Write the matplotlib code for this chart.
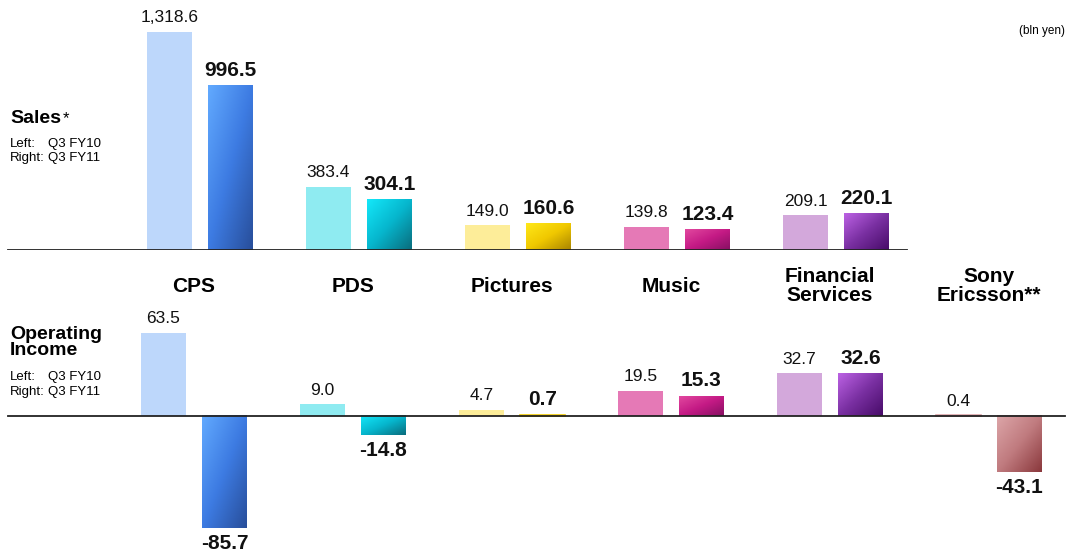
import numpy as np
import matplotlib
matplotlib.use('Agg')
import matplotlib.pyplot as plt
from matplotlib.colors import LinearSegmentedColormap
from matplotlib import transforms

plt.rcParams['font.family'] = ['Liberation Sans', 'DejaVu Sans']

# Data (bln yen)
categories = ['CPS', 'PDS', 'Pictures', 'Music', 'Financial\nServices', 'Sony\nEricsson**']
sales_fy10 = [1318.6, 383.4, 149.0, 139.8, 209.1, np.nan]
sales_fy11 = [996.5, 304.1, 160.6, 123.4, 220.1, np.nan]
oi_fy10 = [63.5, 9.0, 4.7, 19.5, 32.7, 0.4]
oi_fy11 = [-85.7, -14.8, 0.7, 15.3, 32.6, -43.1]

# flat colour for the FY10 bars, gradient stops for the FY11 bars
light_colors = ['#BDD7FB', '#8FEBF1', '#FDED99', '#E579B6', '#D3A8DB', '#DBA4A8']
grad_colors = [
    ['#62AAFF', '#3D7BE2', '#284E9A'],
    ['#14E8FA', '#06B6CD', '#0A6C7C'],
    ['#FFE81A', '#F0C800', '#A88400'],
    ['#E2489F', '#C41A85', '#861062'],
    ['#BC62E4', '#7A30A2', '#470B68'],
    ['#DDA6A9', '#C07B7F', '#8A383C'],
]

W, H = 1073, 556
fig = plt.figure(figsize=(W / 100, H / 100), dpi=100)

# top panel: baseline at y=250px, 0.16532 px per bln yen
top_scale = 0.16532
ax_top = fig.add_axes([0, 1 - 250 / H, 1, 250 / H])
# bottom panel: baseline at y=416px, 1.307 px per bln yen
bot_scale = 1.307
ax_bot = fig.add_axes([0, 0, 1, 266 / H])

step = 159.0
off = 30.5 / step
width = 45 / step
x = np.arange(len(categories))


def gradient_fill(ax, rect, stops):
    """Paint a diagonal gradient (light top-left, dark bottom-right) over a bar."""
    x0, w = rect.get_x(), rect.get_width()
    y0, h = rect.get_y(), rect.get_height()
    ylo, yhi = min(y0, y0 + h), max(y0, y0 + h)
    n = 100
    u = np.linspace(0, 1, n)
    img = (u[None, :] + u[:, None]) / 2
    cmap = LinearSegmentedColormap.from_list('g', stops)
    ax.imshow(img, extent=(x0, x0 + w, ylo, yhi), origin='upper', cmap=cmap,
              aspect='auto', interpolation='bilinear', zorder=3)


def draw_panel(ax, left_vals, right_vals, scale):
    for i in range(len(categories)):
        lv, rv = left_vals[i], right_vals[i]
        if np.isnan(lv):
            continue
        # very short bars get a thin outline so they stay visible
        lw_l = 1.2 if abs(lv) * scale < 3 else 0
        lw_r = 1.2 if abs(rv) * scale < 3 else 0
        ax.bar(x[i] - off, lv, width, color=light_colors[i],
               edgecolor=light_colors[i], lw=lw_l, zorder=2)
        rb = ax.bar(x[i] + off, rv, width, color=grad_colors[i][1],
                    edgecolor=grad_colors[i][1], lw=lw_r, zorder=4 if lw_r else 2)
        if not lw_r:
            gradient_fill(ax, rb[0], grad_colors[i])
        for xv, v, bold in [(x[i] - off, lv, False), (x[i] + off, rv, True)]:
            if v >= 0:
                dy, va = 7, 'baseline'
            else:
                dy, va = -4, 'top'
            ax.annotate(f'{v:,.1f}', (xv, v), xytext=(0, dy), textcoords='offset points',
                        ha='center', va=va, fontsize=15 if bold else 12.5,
                        fontweight='bold' if bold else 'normal', color='#111111',
                        annotation_clip=False)


draw_panel(ax_top, sales_fy10, sales_fy11, top_scale)
draw_panel(ax_bot, oi_fy10, oi_fy11, bot_scale)

ax_top.set_xlim(-200 / step, (W - 200) / step)
ax_top.set_ylim(0, 250 / top_scale)
ax_bot.set_xlim(-194 / step, (W - 194) / step)
ax_bot.set_ylim(-140 / bot_scale, 126 / bot_scale)

ax_top.axhline(0, xmin=8 / W, xmax=907 / W, color='#222222', lw=1.3, zorder=5)
ax_bot.axhline(0, xmin=8 / W, xmax=1065 / W, color='#222222', lw=1.3, zorder=5)
for ax in (ax_top, ax_bot):
    ax.axis('off')

# category labels between the panels
trans = transforms.blended_transform_factory(ax_bot.transData, fig.transFigure)
for i, cat in enumerate(categories):
    fig.text(x[i], 1 - 286 / H, cat, transform=trans, ha='center', va='center',
             fontsize=15, fontweight='bold', linespacing=1.05)


def fy(px):
    return 1 - px / H


# side legends
fig.text(10 / W, fy(123), 'Sales', fontsize=14, fontweight='bold', va='baseline')
fig.text(63 / W, fy(123), '*', fontsize=12, va='baseline')
fig.text(10 / W, fy(339), 'Operating', fontsize=14, fontweight='bold', va='baseline')
fig.text(10 / W, fy(355), 'Income', fontsize=14, fontweight='bold', va='baseline')
for yl, yr in [(147, 161), (380, 395)]:
    fig.text(10 / W, fy(yl), 'Left:', fontsize=9.5, va='baseline')
    fig.text(48 / W, fy(yl), 'Q3 FY10', fontsize=9.5, va='baseline')
    fig.text(10 / W, fy(yr), 'Right:', fontsize=9.5, va='baseline')
    fig.text(48 / W, fy(yr), 'Q3 FY11', fontsize=9.5, va='baseline')

fig.text(1065 / W, fy(34), '(bln yen)', fontsize=8.5, ha='right', va='baseline')

fig.savefig('out.png', dpi=100)
plt.close(fig)
